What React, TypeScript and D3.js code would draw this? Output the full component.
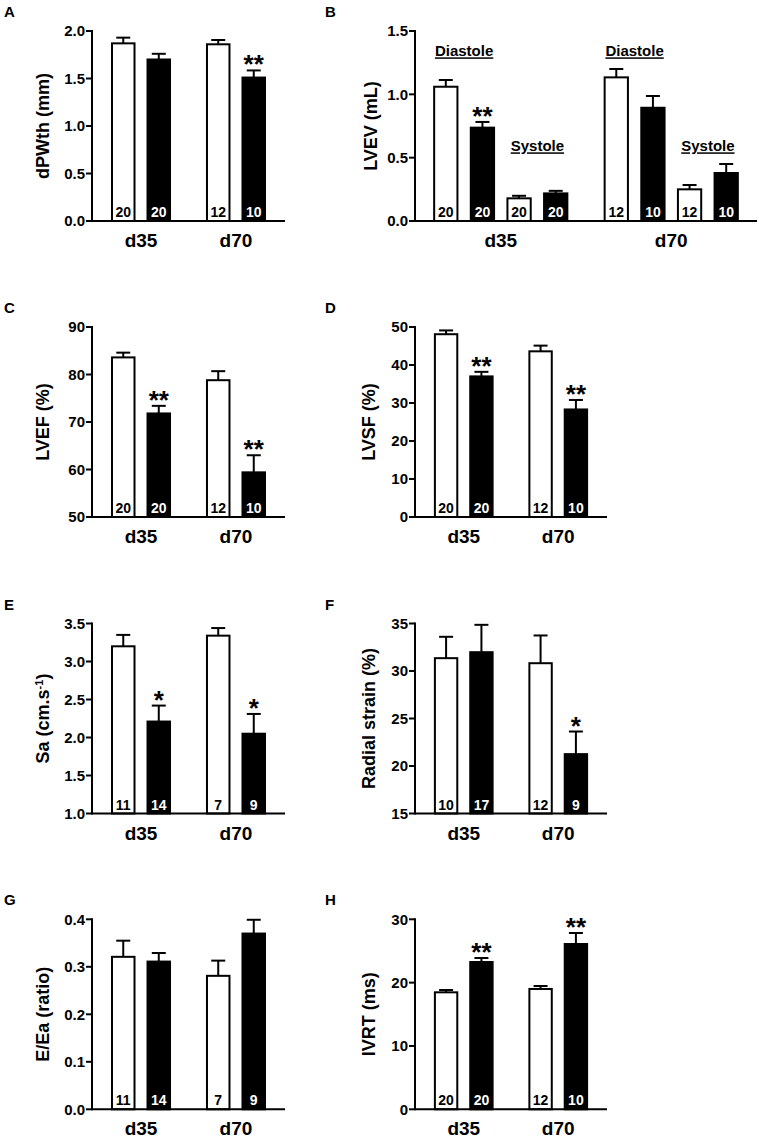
import React from 'react';
import * as d3 from 'd3';

const groups = ['d35', 'd70'];

// Panel A: dPWth (mm)
const aMeans = [1.87, 1.70, 1.86, 1.51];
const aSem = [0.06, 0.06, 0.045, 0.075];
const aN = [20, 20, 12, 10];
const aStars = ['', '', '', '**'];
const aTicks = [0, 0.5, 1.0, 1.5, 2.0];

// Panel B: LVEV (mL) — diastole pair then systole pair per group
const bMeans = [1.06, 0.737, 0.179, 0.218, 1.134, 0.894, 0.25, 0.379];
const bSem = [0.053, 0.045, 0.02, 0.02, 0.066, 0.093, 0.034, 0.071];
const bN = [20, 20, 20, 20, 12, 10, 12, 10];
const bStars = ['', '**', '', '', '', '', '', ''];
const bTicks = [0, 0.5, 1.0, 1.5];
const bPhaseLabels = ['Diastole', 'Systole'];
const bPhaseLevels = [1.3, 0.55];

// Panel C: LVEF (%)
const cMeans = [83.6, 71.8, 78.8, 59.4];
const cSem = [1.0, 1.6, 1.9, 3.6];
const cN = [20, 20, 12, 10];
const cStars = ['', '**', '', '**'];
const cTicks = [50, 60, 70, 80, 90];

// Panel D: LVSF (%)
const dMeans = [48.1, 37.0, 43.6, 28.3];
const dSem = [1.0, 1.2, 1.5, 2.5];
const dN = [20, 20, 12, 10];
const dStars = ['', '**', '', '**'];
const dTicks = [0, 10, 20, 30, 40, 50];

// Panel E: Sa (cm.s-1)
const eMeans = [3.20, 2.21, 3.34, 2.05];
const eSem = [0.15, 0.21, 0.10, 0.26];
const eN = [11, 14, 7, 9];
const eStars = ['', '*', '', '*'];
const eTicks = [1.0, 1.5, 2.0, 2.5, 3.0, 3.5];

// Panel F: Radial strain (%)
const fMeans = [31.35, 31.98, 30.82, 21.25];
const fSem = [2.25, 2.88, 2.92, 2.38];
const fN = [10, 17, 12, 9];
const fStars = ['', '', '', '*'];
const fTicks = [15, 20, 25, 30, 35];

// Panel G: E/Ea (ratio)
const gMeans = [0.321, 0.311, 0.281, 0.37];
const gSem = [0.034, 0.018, 0.032, 0.029];
const gN = [11, 14, 7, 9];
const gStars = ['', '', '', ''];
const gTicks = [0, 0.1, 0.2, 0.3, 0.4];

// Panel H: IVRT (ms)
const hMeans = [18.47, 23.26, 19.0, 26.1];
const hSem = [0.37, 0.63, 0.47, 1.74];
const hN = [20, 20, 12, 10];
const hStars = ['', '**', '', '**'];
const hTicks = [0, 10, 20, 30];

const FONT = '"Liberation Sans", Arial, Helvetica, sans-serif';

type PanelProps = {
  letter: string;
  letterX: number;
  axisX: number;
  xEnd: number;
  top: number;
  bottom: number;
  ticks: number[];
  fmt: (v: number) => string;
  means: number[];
  sems: number[];
  ns: number[];
  stars: string[];
  perGroup: number;
  padInner: number;
  padOuter: number;
  label: React.ReactNode;
  labelX: number;
  phases?: { labels: string[]; levels: number[] };
};

function Panel(p: PanelProps) {
  const domain = [p.ticks[0], p.ticks[p.ticks.length - 1]];
  const y = d3.scaleLinear().domain(domain).range([p.bottom, p.top]);
  const outer = d3
    .scaleBand()
    .domain(groups)
    .range([p.axisX, p.xEnd])
    .paddingInner(p.padInner)
    .paddingOuter(p.padOuter);
  const slots = d3.range(p.perGroup).map(String);
  const inner = d3.scaleBand().domain(slots).range([0, outer.bandwidth()]).paddingInner(0.31);
  const bw = inner.bandwidth();

  const bars = p.means.map((m, i) => {
    const g = groups[Math.floor(i / p.perGroup)];
    const slot = i % p.perGroup;
    const x0 = (outer(g) as number) + (inner(String(slot)) as number);
    return { m, sem: p.sems[i], n: p.ns[i], star: p.stars[i], x0, cx: x0 + bw / 2, dark: slot % 2 === 1 };
  });

  const midY = (p.top + p.bottom) / 2;

  return (
    <g fontFamily={FONT} fontWeight="bold">
      <text x={p.letterX} y={p.top - 14} fontSize={15}>
        {p.letter}
      </text>
      <text
        transform={`translate(${p.labelX},${midY}) rotate(-90)`}
        textAnchor="middle"
        fontSize={18}
      >
        {p.label}
      </text>
      {bars.map((b, i) => {
        const yt = y(b.m);
        const ye = y(b.m + b.sem);
        return (
          <g key={i}>
            <line x1={b.cx} x2={b.cx} y1={yt} y2={ye} stroke="black" strokeWidth={2} />
            <line x1={b.cx - 7} x2={b.cx + 7} y1={ye} y2={ye} stroke="black" strokeWidth={2} />
            <rect
              x={b.x0 + 1}
              y={yt}
              width={bw - 2}
              height={p.bottom - yt}
              fill={b.dark ? 'black' : 'white'}
              stroke="black"
              strokeWidth={2}
            />
            <text x={b.cx} y={p.bottom - 4} textAnchor="middle" fontSize={14} fill={b.dark ? 'white' : 'black'}>
              {b.n}
            </text>
            {b.star && (
              <text x={b.cx} y={ye + 3} textAnchor="middle" fontSize={26}>
                {b.star}
              </text>
            )}
          </g>
        );
      })}
      {p.phases &&
        groups.map((g) =>
          p.phases!.labels.map((lab, k) => {
            const x0 = (outer(g) as number) + (inner(String(k * 2)) as number);
            const x1 = (outer(g) as number) + (inner(String(k * 2 + 1)) as number) + bw;
            return (
              <text
                key={g + lab}
                x={(x0 + x1) / 2}
                y={y(p.phases!.levels[k])}
                textAnchor="middle"
                fontSize={15}
                textDecoration="underline"
              >
                {lab}
              </text>
            );
          })
        )}
      <line x1={p.axisX} x2={p.axisX} y1={p.top - 1} y2={p.bottom + 1} stroke="black" strokeWidth={2} />
      <line x1={p.axisX} x2={p.xEnd} y1={p.bottom} y2={p.bottom} stroke="black" strokeWidth={2} />
      {p.ticks.map((t) => (
        <g key={t}>
          <line x1={p.axisX - 6} x2={p.axisX} y1={y(t)} y2={y(t)} stroke="black" strokeWidth={2} />
          <text x={p.axisX - 7} y={y(t)} dy="0.36em" textAnchor="end" fontSize={15}>
            {p.fmt(t)}
          </text>
        </g>
      ))}
      {groups.map((g) => (
        <text
          key={g}
          x={(outer(g) as number) + outer.bandwidth() / 2}
          y={p.bottom + 26}
          textAnchor="middle"
          fontSize={19}
        >
          {g}
        </text>
      ))}
    </g>
  );
}

const f1 = d3.format('.1f');
const f0 = d3.format('d');

const rowTops = [31, 327, 623.5, 919.3];
const H = 190;
const L = { axisX: 92, xEnd: 285, letterX: 4, labelX: 49, padInner: 0.368, padOuter: 0.2, perGroup: 2 };
const R = { axisX: 415, xEnd: 607, letterX: 325, labelX: 375, padInner: 0.368, padOuter: 0.2, perGroup: 2 };

export default function App() {
  return (
    <svg
      width={759}
      height={1138}
      style={{ position: 'absolute', left: 0, top: 0, background: 'white' }}
    >
      <Panel {...L} letter="A" top={rowTops[0]} bottom={rowTops[0] + H} ticks={aTicks} fmt={f1}
        means={aMeans} sems={aSem} ns={aN} stars={aStars} label="dPWth (mm)" />
      <Panel {...R} xEnd={757} perGroup={4} padInner={0.207} padOuter={0.1065} labelX={377}
        letter="B" top={rowTops[0]} bottom={rowTops[0] + H} ticks={bTicks} fmt={f1}
        means={bMeans} sems={bSem} ns={bN} stars={bStars} label="LVEV (mL)"
        phases={{ labels: bPhaseLabels, levels: bPhaseLevels }} />
      <Panel {...L} letter="C" top={rowTops[1]} bottom={rowTops[1] + H} ticks={cTicks} fmt={f0}
        means={cMeans} sems={cSem} ns={cN} stars={cStars} label="LVEF (%)" />
      <Panel {...R} letter="D" top={rowTops[1]} bottom={rowTops[1] + H} ticks={dTicks} fmt={f0}
        means={dMeans} sems={dSem} ns={dN} stars={dStars} label="LVSF (%)" />
      <Panel {...L} letter="E" top={rowTops[2]} bottom={rowTops[2] + H} ticks={eTicks} fmt={f1}
        means={eMeans} sems={eSem} ns={eN} stars={eStars}
        label={<>Sa (cm.s<tspan baselineShift="super" fontSize={11}>-1</tspan>)</>} />
      <Panel {...R} letter="F" top={rowTops[2]} bottom={rowTops[2] + H} ticks={fTicks} fmt={f0}
        means={fMeans} sems={fSem} ns={fN} stars={fStars} label="Radial strain (%)" />
      <Panel {...L} letter="G" top={rowTops[3]} bottom={rowTops[3] + H} ticks={gTicks} fmt={f1}
        means={gMeans} sems={gSem} ns={gN} stars={gStars} label="E/Ea (ratio)" />
      <Panel {...R} letter="H" top={rowTops[3]} bottom={rowTops[3] + H} ticks={hTicks} fmt={f0}
        means={hMeans} sems={hSem} ns={hN} stars={hStars} label="IVRT (ms)" />
    </svg>
  );
}
